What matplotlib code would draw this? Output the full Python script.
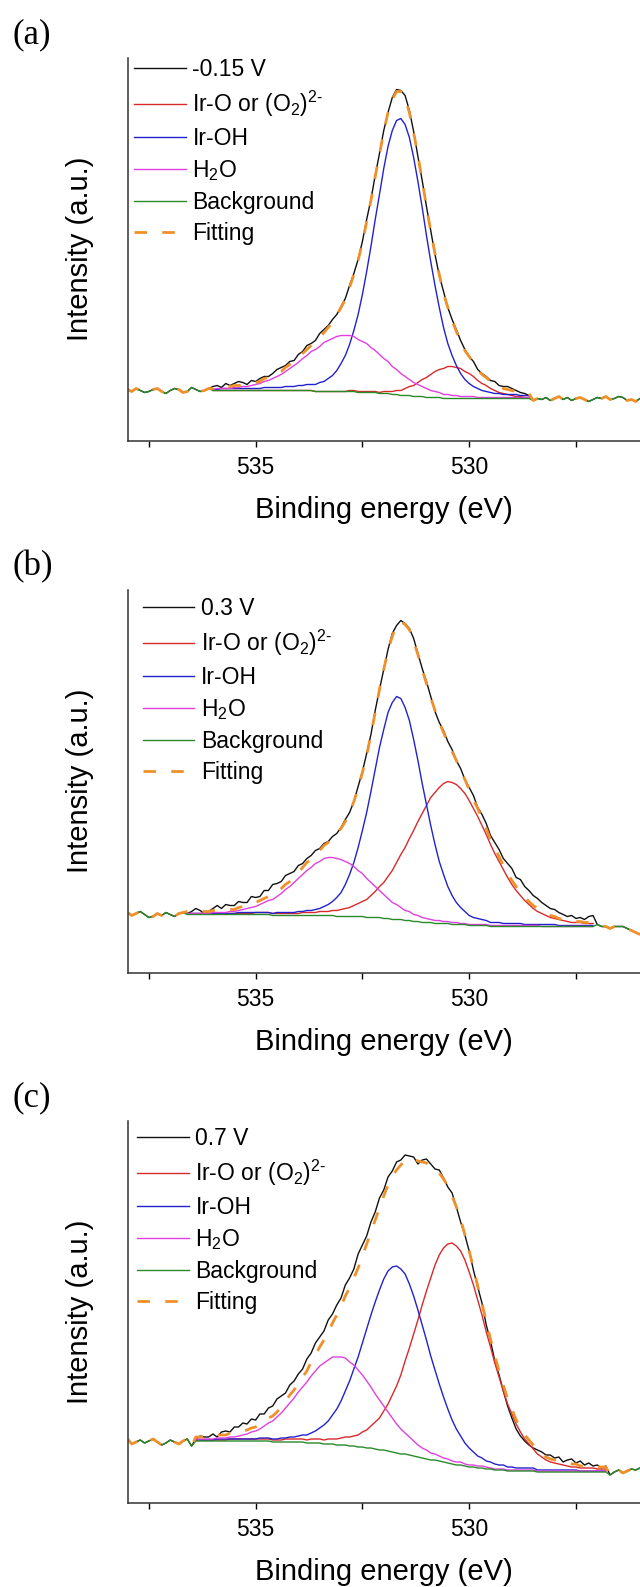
import numpy as np
import matplotlib.pyplot as plt

# binding energy axis of the spectra (eV)
be = np.round(np.linspace(538.0, 526.0, 121), 1)

# measured O 1s spectra (a.u.)
raw_a = [51, 49, 52, 50, 48, 49, 51, 52, 49, 47,
         50, 52, 51, 48, 49, 53, 51, 49, 50, 52,
         54, 55, 53, 57, 55, 57, 59, 58, 56, 60,
         59, 62, 64, 64, 67, 71, 73, 75, 79, 80,
         86, 89, 95, 97, 100, 107, 111, 115, 121, 126,
         134, 142, 155, 167, 181, 199, 221, 241, 265, 287,
         310, 328, 343, 351, 350, 345, 330, 309, 284, 260,
         234, 210, 186, 165, 149, 133, 121, 111, 100, 91,
         84, 79, 71, 67, 64, 60, 59, 55, 54, 54,
         52, 50, 48, 47, 45, 40, 42, 41, 43, 40,
         42, 44, 41, 43, 40, 42, 43, 41, 39, 41,
         43, 42, 44, 41, 42, 44, 43, 40, 41, 39,
         42]
raw_b = [60, 57, 59, 61, 58, 55, 56, 59, 57, 60,
         58, 56, 59, 60, 59, 61, 64, 62, 59, 61,
         64, 67, 64, 68, 67, 67, 71, 70, 70, 76,
         75, 76, 82, 82, 88, 89, 91, 97, 99, 101,
         107, 109, 114, 117, 122, 124, 129, 131, 136, 139,
         145, 153, 160, 171, 186, 201, 219, 238, 262, 283,
         303, 323, 339, 347, 352, 349, 344, 334, 319, 304,
         291, 276, 261, 250, 242, 231, 223, 212, 204, 193,
         185, 177, 165, 158, 149, 137, 130, 123, 114, 109,
         104, 95, 93, 86, 82, 77, 74, 70, 67, 64,
         63, 60, 58, 56, 57, 54, 55, 53, 56, 57,
         48, 46, 46, 44, 46, 46, 46, 44, 42, 40,
         38]
raw_c = [64, 59, 61, 63, 60, 62, 64, 61, 58, 60,
         63, 61, 59, 62, 64, 57, 64, 67, 66, 66,
         69, 66, 71, 72, 71, 76, 76, 80, 79, 84,
         83, 89, 89, 95, 97, 104, 107, 110, 118, 122,
         129, 134, 144, 150, 160, 166, 172, 183, 189, 198,
         205, 218, 225, 234, 249, 258, 267, 281, 291, 305,
         313, 326, 332, 341, 343, 348, 347, 346, 339, 343,
         344, 339, 334, 333, 325, 316, 310, 296, 281, 268,
         252, 233, 216, 200, 178, 162, 142, 128, 112, 97,
         85, 74, 67, 62, 58, 55, 53, 51, 48, 48,
         45, 46, 41, 43, 44, 40, 42, 38, 40, 37,
         38, 35, 37, 28, 31, 33, 30, 32, 34, 33,
         35]

# fit windows (eV); background and peaks are given on these windows
win_a = (536.0, 528.6)
win_b = (536.6, 527.1)
win_c = (536.4, 526.8)

# (a) -0.15 V : Shirley background and peak components above it
bg_a = [50, 50, 50, 50, 50, 50, 50, 50, 50, 50,
        50, 50, 50, 50, 50, 50, 50, 50, 50, 50,
        50, 50, 50, 50, 49, 49, 49, 49, 49, 49,
        49, 49, 49, 49, 48, 48, 48, 48, 48, 47,
        47, 47, 46, 46, 45, 45, 45, 44, 44, 44,
        43, 43, 43, 43, 42, 42, 42, 42, 42, 42,
        42, 42, 42, 42, 42, 42, 42, 42, 42, 42,
        42, 42, 42, 42, 42]
iro_a = [0, 0, 0, 0, 0, 0, 0, 0, 0, 0,
         0, 0, 0, 0, 0, 0, 0, 0, 0, 0,
         0, 0, 0, 0, 0, 0, 0, 0, 0, 0,
         0, 0, 1, 1, 1, 1, 1, 1, 1, 1,
         2, 2, 3, 4, 5, 7, 9, 11, 14, 17,
         20, 23, 26, 28, 30, 32, 32, 31, 30, 27,
         25, 22, 18, 15, 13, 10, 8, 6, 5, 4,
         3, 2, 2, 1, 1]
iroh_a = [1, 1, 2, 2, 2, 2, 2, 2, 2, 2,
          2, 2, 3, 3, 3, 3, 3, 4, 4, 4,
          5, 5, 6, 6, 7, 9, 10, 13, 16, 21,
          28, 36, 47, 61, 78, 98, 121, 146, 173, 199,
          225, 247, 264, 274, 277, 271, 258, 239, 215, 189,
          162, 136, 112, 90, 71, 55, 43, 33, 25, 19,
          15, 12, 10, 8, 7, 6, 5, 5, 4, 4,
          4, 4, 3, 3, 3]
h2o_a = [1, 2, 2, 2, 2, 3, 3, 4, 4, 5,
         6, 7, 9, 10, 12, 14, 16, 19, 22, 25,
         28, 32, 35, 39, 42, 45, 49, 51, 53, 55,
         56, 56, 56, 55, 53, 51, 49, 45, 42, 39,
         35, 32, 28, 25, 22, 19, 16, 14, 12, 10,
         9, 7, 6, 5, 4, 4, 3, 3, 2, 2,
         2, 2, 1, 1, 1, 1, 1, 1, 1, 1,
         1, 1, 1, 1, 1]

# (b) 0.3 V
bg_b = [58, 58, 58, 58, 58, 58, 58, 58, 58, 58,
        58, 58, 58, 58, 58, 58, 58, 58, 58, 58,
        57, 57, 57, 57, 57, 57, 57, 57, 57, 57,
        57, 57, 57, 57, 57, 56, 56, 56, 56, 56,
        56, 56, 55, 55, 55, 55, 54, 54, 53, 53,
        53, 52, 52, 51, 51, 50, 50, 50, 49, 49,
        49, 49, 48, 48, 48, 48, 47, 47, 47, 47,
        47, 46, 46, 46, 46, 46, 46, 46, 46, 46,
        46, 46, 46, 46, 46, 46, 46, 46, 46, 46,
        46, 46, 46, 46, 46, 46]
iro_b = [1, 1, 1, 1, 1, 1, 1, 1, 1, 1,
         1, 1, 1, 1, 1, 1, 2, 2, 2, 2,
         2, 2, 2, 2, 2, 2, 2, 3, 3, 3,
         3, 4, 4, 4, 5, 6, 7, 8, 9, 11,
         13, 15, 18, 22, 26, 31, 36, 42, 49, 57,
         65, 73, 82, 91, 100, 109, 117, 125, 131, 136,
         140, 142, 142, 140, 136, 131, 125, 117, 109, 100,
         91, 82, 73, 65, 57, 49, 42, 36, 31, 26,
         22, 18, 15, 13, 11, 9, 8, 7, 6, 5,
         4, 4, 4, 3, 3, 3]
iroh_b = [1, 1, 1, 1, 1, 1, 1, 1, 1, 1,
          1, 1, 2, 2, 2, 2, 2, 2, 2, 2,
          2, 3, 3, 3, 3, 3, 4, 4, 5, 5,
          6, 7, 9, 11, 14, 19, 24, 32, 42, 54,
          69, 86, 105, 126, 148, 170, 189, 206, 217, 223,
          221, 213, 200, 182, 161, 139, 118, 97, 79, 62,
          49, 37, 29, 22, 17, 13, 10, 8, 7, 6,
          5, 4, 4, 4, 3, 3, 3, 3, 3, 2,
          2, 2, 2, 2, 2, 2, 2, 1, 1, 1,
          1, 1, 1, 1, 1, 1]
h2o_b = [1, 1, 1, 1, 1, 1, 2, 2, 2, 2,
         3, 3, 4, 5, 6, 7, 8, 10, 12, 14,
         16, 19, 22, 26, 29, 33, 37, 41, 45, 48,
         52, 54, 57, 58, 58, 58, 57, 55, 53, 50,
         46, 43, 39, 35, 31, 27, 24, 20, 17, 15,
         12, 10, 9, 7, 6, 5, 4, 3, 3, 3,
         2, 2, 2, 2, 1, 1, 1, 1, 1, 1,
         1, 1, 1, 1, 1, 1, 1, 1, 1, 1,
         1, 1, 1, 0, 0, 0, 0, 0, 0, 0,
         0, 0, 0, 0, 0, 0]

# (c) 0.7 V
bg_c = [62, 62, 62, 62, 62, 62, 62, 62, 62, 62,
        62, 62, 62, 62, 62, 62, 62, 62, 61, 61,
        61, 61, 61, 61, 61, 61, 60, 60, 60, 60,
        59, 59, 59, 58, 58, 58, 57, 57, 56, 56,
        55, 55, 54, 53, 53, 52, 51, 50, 49, 49,
        48, 47, 46, 45, 44, 43, 43, 42, 41, 40,
        39, 38, 38, 37, 36, 36, 35, 35, 34, 34,
        33, 33, 33, 32, 32, 32, 32, 32, 32, 32,
        31, 31, 31, 31, 31, 31, 31, 31, 31, 31,
        31, 31, 31, 31, 31, 31, 31]
iro_c = [1, 1, 1, 1, 1, 1, 1, 1, 2, 2,
         2, 2, 2, 2, 2, 2, 2, 2, 2, 2,
         2, 3, 3, 3, 3, 3, 3, 4, 4, 4,
         4, 5, 5, 6, 7, 8, 9, 10, 12, 15,
         18, 22, 27, 32, 39, 47, 57, 67, 79, 93,
         107, 122, 137, 153, 168, 182, 195, 206, 214, 219,
         221, 219, 214, 206, 195, 182, 168, 153, 137, 122,
         107, 93, 79, 67, 57, 47, 39, 32, 27, 22,
         18, 15, 12, 10, 9, 8, 7, 6, 5, 5,
         4, 4, 4, 4, 3, 3, 3]
iroh_c = [1, 1, 1, 1, 1, 2, 2, 2, 2, 2,
          2, 2, 2, 2, 2, 3, 3, 3, 3, 3,
          4, 4, 5, 5, 6, 7, 8, 10, 12, 15,
          19, 23, 29, 36, 44, 54, 65, 77, 90, 104,
          119, 133, 147, 160, 171, 180, 185, 187, 185, 180,
          171, 160, 147, 133, 119, 104, 90, 77, 65, 54,
          44, 36, 29, 23, 19, 15, 12, 10, 8, 7,
          6, 5, 5, 4, 4, 3, 3, 3, 3, 3,
          2, 2, 2, 2, 2, 2, 2, 2, 2, 2,
          1, 1, 1, 1, 1, 1, 1]
h2o_c = [2, 2, 2, 2, 2, 3, 3, 3, 4, 4,
         5, 6, 7, 9, 10, 12, 15, 18, 21, 25,
         29, 34, 39, 44, 50, 55, 61, 67, 72, 77,
         81, 84, 87, 88, 88, 87, 84, 81, 77, 72,
         67, 61, 55, 50, 44, 39, 34, 29, 25, 21,
         18, 15, 12, 10, 9, 7, 6, 5, 4, 4,
         3, 3, 3, 2, 2, 2, 2, 2, 2, 1,
         1, 1, 1, 1, 1, 1, 1, 1, 1, 1,
         1, 1, 1, 1, 1, 1, 1, 1, 1, 1,
         1, 1, 1, 1, 1, 1, 1]

potentials = ['-0.15 V', '0.3 V', '0.7 V']
panel_labels = ['(a)', '(b)', '(c)']
tick_pos = [537.5, 535, 532.5, 530, 527.5]
tick_txt = ['', '535', '', '530', '']

panels = [
    (raw_a, win_a, bg_a, iro_a, iroh_a, h2o_a),
    (raw_b, win_b, bg_b, iro_b, iroh_b, h2o_b),
    (raw_c, win_c, bg_c, iro_c, iroh_c, h2o_c),
]

plt.rcParams['font.family'] = ['Liberation Sans', 'DejaVu Sans']
plt.rcParams['mathtext.fontset'] = 'custom'
plt.rcParams['mathtext.rm'] = 'Liberation Sans'
plt.rcParams['mathtext.it'] = 'Liberation Sans:italic'

fig = plt.figure(figsize=(6.4, 15.87), dpi=100)

# layout in pixels of the 640 x 1587 figure
tops = [58, 590, 1120.5]
leg_x = [0.0127, 0.030, 0.0185]
leg_y = [1.0, 0.981, 0.983]

for k, (raw, win, bg, iro, iroh, h2o) in enumerate(panels):
    raw = np.array(raw, float)
    bg = np.array(bg, float)
    i0 = int(np.argmin(abs(be - win[0])))
    i1 = int(np.argmin(abs(be - win[1])))
    xw = be[i0:i1 + 1]
    fit = bg + np.array(iro) + np.array(iroh) + np.array(h2o)

    ax = fig.add_axes([127.5 / 640, 1 - (tops[k] + 382.5) / 1587,
                       1 - 127.5 / 640, 382.5 / 1587])
    ax.plot(be, raw, color='#111111', lw=1.0, label=potentials[k])
    ax.plot(xw, bg + iro, color='#d82a2a', lw=1.0,
            label=r'Ir-O or (O$_2$)$^{2\text{-}}$')
    ax.plot(xw, bg + iroh, color='#2222cc', lw=1.0, label='Ir-OH')
    ax.plot(xw, bg + h2o, color='#e040e0', lw=1.0, label=r'H$_2$O')
    # outside the fit window background and fit follow the data
    bg_line = np.concatenate([raw[:i0], bg, raw[i1 + 1:]])
    fit_line = np.concatenate([raw[:i0], fit, raw[i1 + 1:]])
    ax.plot(be, bg_line, color='#2a8a2a', lw=1.0, label='Background')
    ax.plot(be, fit_line, color='#f0902a', lw=2.0, dashes=(4.5, 5.5), label='Fitting')

    ax.set_xlim(538, 526)
    ax.set_ylim(0, 382.5)
    ax.set_yticks([])
    ax.set_xticks(tick_pos, labels=tick_txt)
    ax.tick_params(axis='x', direction='out', length=4, width=1, pad=7, labelsize=16.5)
    for sp in ['top', 'right']:
        ax.spines[sp].set_visible(False)
    for sp in ['left', 'bottom']:
        ax.spines[sp].set_linewidth(1.1)
        ax.spines[sp].set_color('#333333')
    ax.set_xlabel('Binding energy (eV)', fontsize=21)
    ax.xaxis.set_label_coords(0.5, -0.144)
    ax.set_ylabel('Intensity (a.u.)', fontsize=21)
    ax.yaxis.set_label_coords(-0.0654, 0.5)
    ax.legend(loc='upper left', bbox_to_anchor=(leg_x[k], leg_y[k]), frameon=False,
              borderpad=0, borderaxespad=0, handlelength=2.25, handletextpad=0.3,
              labelspacing=0.345, fontsize=16.5)
    fig.text(12 / 640, 1 - (tops[k] - 23) / 1587, panel_labels[k],
             family='Liberation Serif', fontsize=25, va='center', ha='left')

plt.savefig('out.png', dpi=100)
